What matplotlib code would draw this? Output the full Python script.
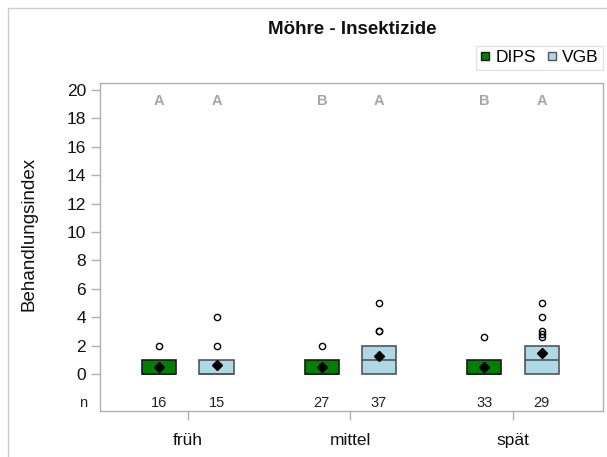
import matplotlib
matplotlib.use("Agg")
import matplotlib.pyplot as plt
from matplotlib.lines import Line2D
from matplotlib.patches import Rectangle

plt.rcParams['font.family'] = ['Liberation Sans', 'DejaVu Sans']

# Data
zeitpunkte = ["früh", "mittel", "spät"]
gruppen = ["DIPS", "VGB"]

q1 = {"DIPS": [0, 0, 0], "VGB": [0, 0, 0]}
median = {"DIPS": [0, 0, 0], "VGB": [0, 1, 1]}
q3 = {"DIPS": [1, 1, 1], "VGB": [1, 2, 2]}
mittelwert = {"DIPS": [0.5, 0.5, 0.52], "VGB": [0.66, 1.24, 1.5]}
ausreisser = {
    "DIPS": [[2], [2], [2.6]],
    "VGB": [[2, 4], [3, 3, 5], [2.6, 2.8, 3.0, 4, 5]],
}
n_werte = {"DIPS": [16, 27, 33], "VGB": [15, 37, 29]}
buchstaben = {"DIPS": ["A", "B", "B"], "VGB": ["A", "A", "A"]}

farben = {"DIPS": "#008000", "VGB": "#add8e6"}
kanten = {"DIPS": "#1a1a1a", "VGB": "#555555"}
versatz = {"DIPS": -0.175, "VGB": 0.177}
breite = 0.21

fig = plt.figure(figsize=(6.07, 4.57), dpi=100)
ax = fig.add_axes([100 / 607, 1 - 411 / 457, 503 / 607, 328 / 457])

# outer frame
fig.patches.append(Rectangle((8 / 607, -0.1), 1.2, 1 - 8 / 457 + 0.1,
                             transform=fig.transFigure, fill=False,
                             edgecolor="#cccccc", linewidth=1.0, zorder=0))

for g in gruppen:
    stats = []
    pos = []
    for i in range(len(zeitpunkte)):
        stats.append(dict(med=median[g][i], q1=q1[g][i], q3=q3[g][i],
                          whislo=q1[g][i], whishi=q3[g][i],
                          mean=mittelwert[g][i], fliers=ausreisser[g][i]))
        pos.append(i + versatz[g])
    ax.bxp(stats, positions=pos, widths=breite, patch_artist=True,
           showmeans=True, showcaps=False, manage_ticks=False,
           boxprops=dict(facecolor=farben[g], edgecolor=kanten[g], linewidth=1.2),
           medianprops=dict(color=kanten[g], linewidth=1.2),
           whiskerprops=dict(linewidth=0),
           meanprops=dict(marker="D", markerfacecolor="black",
                          markeredgecolor="black", markersize=5.5),
           flierprops=dict(marker="o", markerfacecolor="none",
                           markeredgecolor="black", markersize=4.5,
                           markeredgewidth=1.0))
    for i in range(len(zeitpunkte)):
        x = i + versatz[g]
        ax.text(x, -2.05, str(n_werte[g][i]), ha="center", va="center",
                fontsize=10.5, color="#222222")
        ax.text(x, 19.25, buchstaben[g][i], ha="center", va="center",
                fontsize=10.5, fontweight="bold", color="#a6a6a6")

ax.text(-0.025, -2.05, "n", transform=ax.get_yaxis_transform(),
        ha="right", va="center", fontsize=10.5, color="#222222")

ax.set_xlim(-0.54, 2.555)
ax.set_ylim(-2.6, 20.5)
ax.set_yticks(range(0, 21, 2))
ax.set_xticks(range(len(zeitpunkte)))
ax.set_xticklabels(zeitpunkte)
ax.tick_params(axis="both", colors="#b0b0b0", labelcolor="#111111",
               labelsize=12.5, length=6.5, width=1.0)
ax.tick_params(axis="x", pad=9)
for s in ax.spines.values():
    s.set_color("#b0b0b0")
    s.set_linewidth(1.0)

fig.text(29.5 / 607, 1 - 234 / 457, "Behandlungsindex", rotation=90,
         ha="center", va="center", fontsize=13.5, color="#111111")

fig.text(352 / 607, 1 - 30 / 457, "Möhre - Insektizide", ha="center",
         va="center", fontsize=13.5, fontweight="bold", color="#111111")

handles = [Line2D([], [], linestyle="none", marker="s", markersize=5.5,
                  markerfacecolor=farben[g], markeredgecolor=kanten[g])
           for g in gruppen]
leg = fig.legend(handles, gruppen, loc="upper right",
                 bbox_to_anchor=(603 / 607, 1 - 46 / 457), fontsize=12.5,
                 frameon=True, fancybox=False, handlelength=0.6,
                 handletextpad=0.3, columnspacing=0.6, ncol=2,
                 borderpad=0.25, borderaxespad=0)
leg.get_frame().set_edgecolor("#dddddd")
leg.get_frame().set_linewidth(1.0)

fig.savefig("out.png", dpi=100)
